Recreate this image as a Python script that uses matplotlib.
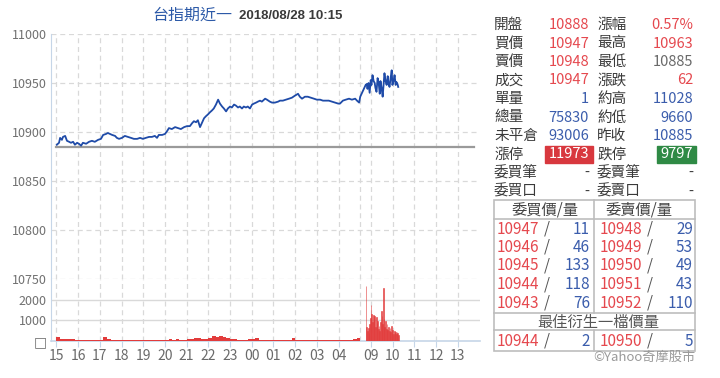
import matplotlib
matplotlib.use("Agg")
from matplotlib import pyplot as plt
from matplotlib.patches import Rectangle
import numpy as np

plt.rcParams['font.family'] = ['Noto Sans CJK TC', 'DejaVu Sans']

title_name = "台指期近一"
title_time = "2018/08/28 10:15"
prev_close = 10885

# intraday price (night session 15:00-05:00, day session 08:45-)
price_times = [
    "15:01", "15:07", "15:10", "15:15", "15:18", "15:24", "15:29", "15:35", "15:40", "15:46",
    "15:51", "15:57", "16:02", "16:08", "16:13", "16:22", "16:30", "16:38", "16:46", "16:55",
    "17:03", "17:09", "17:17", "17:22", "17:28", "17:34", "17:42", "17:47", "17:53", "18:01",
    "18:09", "18:18", "18:26", "18:34", "18:43", "18:51", "18:59", "19:07", "19:16", "19:24",
    "19:32", "19:38", "19:43", "19:52", "20:00", "20:06", "20:11", "20:19", "20:28", "20:36",
    "20:44", "20:53", "21:01", "21:09", "21:15", "21:20", "21:26", "21:31", "21:37", "21:42",
    "21:48", "21:53", "21:59", "22:04", "22:10", "22:15", "22:21", "22:27", "22:32", "22:38",
    "22:43", "22:49", "22:54", "23:00", "23:05", "23:11", "23:16", "23:22", "23:27", "23:33",
    "23:38", "23:44", "23:49", "23:55", "00:01", "00:06", "00:12", "00:17", "00:23", "00:28",
    "00:37", "00:42", "00:50", "00:56", "01:04", "01:13", "01:18", "01:26", "01:35", "01:43",
    "01:51", "01:59", "02:08", "02:13", "02:19", "02:27", "02:35", "02:44", "02:52", "03:00",
    "03:09", "03:17", "03:25", "03:33", "03:42", "03:50", "03:59", "04:04", "04:12", "04:20",
    "04:29", "04:37", "04:46", "04:51", "04:57", "05:00",
    "08:45", "08:48", "08:50", "08:53", "08:56", "08:59", "09:01", "09:04", "09:07", "09:10",
    "09:12", "09:15", "09:18", "09:21", "09:24", "09:26", "09:29", "09:32", "09:35", "09:37",
    "09:40", "09:43", "09:46", "09:48", "09:51", "09:54", "09:57", "09:59", "10:02", "10:05",
    "10:08", "10:10", "10:13", "10:15",
]
price_values = [
    10887, 10889, 10894, 10892, 10895, 10896, 10891, 10890, 10889, 10890,
    10887, 10889, 10888, 10886, 10889, 10888, 10890, 10891, 10890, 10892,
    10893, 10897, 10898, 10899, 10898, 10897, 10896, 10894, 10893, 10894,
    10896, 10895, 10894, 10893, 10893, 10894, 10893, 10894, 10895, 10895,
    10896, 10894, 10897, 10897, 10898, 10901, 10904, 10903, 10905, 10904,
    10903, 10905, 10906, 10906, 10909, 10911, 10910, 10912, 10905, 10909,
    10914, 10916, 10918, 10920, 10922, 10924, 10928, 10933, 10929, 10926,
    10924, 10921, 10924, 10926, 10925, 10928, 10927, 10925, 10926, 10924,
    10926, 10925, 10926, 10924, 10928, 10929, 10930, 10931, 10932, 10931,
    10934, 10933, 10931, 10930, 10930, 10931, 10932, 10932, 10933, 10934,
    10935, 10937, 10939, 10936, 10934, 10936, 10936, 10935, 10934, 10933,
    10933, 10932, 10932, 10932, 10931, 10930, 10929, 10929, 10932, 10933,
    10934, 10933, 10934, 10932, 10930, 10936,
    10948, 10949, 10944, 10950, 10940, 10953, 10948, 10958, 10952, 10950,
    10945, 10941, 10955, 10950, 10939, 10952, 10945, 10936, 10950, 10960,
    10952, 10948, 10957, 10950, 10946, 10955, 10963, 10948, 10952, 10958,
    10948, 10951, 10949, 10946,
]

# volume: night session in 10-minute bars from 15:00, day session in 2-minute bars from 08:45
vol_night = [
    180, 120, 100, 90, 80, 70,
    60, 50, 55, 45, 50, 60,
    70, 190, 90, 70, 60, 50,
    45, 40, 50, 45, 40, 50,
    40, 35, 40, 45, 40, 50,
    60, 110, 70, 80, 60, 70,
    80, 90, 140, 150, 80, 90,
    150, 240, 210, 250, 180, 160,
    100, 80, 70, 60, 70, 80,
    90, 150, 70, 60, 55, 60,
    55, 50, 60, 55, 50, 130,
    60, 50, 45, 55, 50, 40,
    45, 50, 40, 50, 55, 60,
    60, 70, 60, 70, 90, 140,
]
vol_day = [
    2650, 700, 500, 650, 400, 800, 1100, 1750, 1300, 900,
    1250, 1000, 1200, 700, 1150, 850, 950, 600, 750, 500,
    900, 1450, 1200, 800, 2580, 1050, 700, 950, 600, 800,
    550, 700, 500, 650, 450, 750, 400, 550, 350, 500,
    400, 450, 350, 450, 400, 300,
]

x_tick_labels = ["15", "16", "17", "18", "19", "20", "21", "22", "23", "00",
                 "01", "02", "03", "04", "09", "10", "11", "12", "13"]
price_ticks = [10750, 10800, 10850, 10900, 10950, 11000]
vol_ticks = [0, 1000, 2000]
vol_tick_labels = ["□", "1000", "2000"]

quote_left_labels = ["開盤", "買價", "賣價", "成交", "單量", "總量", "未平倉", "漲停", "委買筆", "委買口"]
quote_left_values = ["10888", "10947", "10948", "10947", "1", "75830", "93006", "11973", "-", "-"]
quote_right_labels = ["漲幅", "最高", "最低", "漲跌", "約高", "約低", "昨收", "跌停", "委賣筆", "委賣口"]
quote_right_values = ["0.57%", "10963", "10885", "62", "11028", "9660", "10885", "9797", "-", "-"]

book_headers = ["委買價/量", "委賣價/量"]
bid_prices = [10947, 10946, 10945, 10944, 10943]
bid_qty = [11, 46, 133, 118, 76]
ask_prices = [10948, 10949, 10950, 10951, 10952]
ask_qty = [29, 53, 49, 43, 110]
best_title = "最佳衍生一檔價量"
best_bid = (10944, 2)
best_ask = (10950, 5)
credit = "©Yahoo奇摩股市"

RED = "#e5484e"
BLUE = "#3b5dac"
DARK = "#3a3a3a"
GRID = "#d9d9d9"
SPINE = "#c6d6e8"
VOL = "#e23c3c"


def pos(hhmm):
    h, m = map(int, hhmm.split(":"))
    t = h + m / 60
    if t >= 15:
        return t - 15
    if t <= 5:
        return t + 9
    return t + 5.5


fig = plt.figure(figsize=(7.2, 3.78), dpi=100)
W, H = 720, 378
left, right = 51 / W, 480 / W
ax_p = fig.add_axes([left, 1 - 279 / H, right - left, (279 - 34) / H])
ax_v = fig.add_axes([left, 1 - 341 / H, right - left, (341 - 279) / H], sharex=ax_p)

xp = [pos(t) for t in price_times]
ax_p.plot([0, pos("13:45")], [prev_close, prev_close], color="#9a9a9a", lw=1.6, zorder=2)
ax_p.plot(xp, price_values, color="#1f4ba8", lw=1.3, zorder=3)

xn = np.arange(len(vol_night)) / 6
xd = pos("08:45") + np.arange(len(vol_day)) * 2 / 60
ax_v.bar(xn, vol_night, width=1 / 6, align="edge", color=VOL, lw=0, zorder=3)
ax_v.bar(xd, vol_day, width=2 / 60, align="edge", color=VOL, ec=VOL, lw=0.4, zorder=3)

xt = [pos(l + ":00") for l in x_tick_labels]
for ax in (ax_p, ax_v):
    ax.set_xlim(-0.253, 19.52)
    ax.set_xticks(xt)
    ax.set_xticks([pos("05:00")], minor=True)
    ax.grid(which="both", axis="x", color=GRID, lw=0.9, ls=(0, (4, 3)))
    for s in ("top", "right"):
        ax.spines[s].set_visible(False)
    ax.spines["left"].set_color(SPINE)
    ax.set_axisbelow(True)

ax_p.set_ylim(10750, 11000)
ax_p.set_yticks(price_ticks)
ax_p.grid(axis="y", color=GRID, lw=0.9, ls=(0, (4, 3)))
ax_p.spines["bottom"].set_visible(False)
ax_p.tick_params(axis="x", which="both", length=0, labelbottom=False)
ax_p.tick_params(axis="y", length=0, pad=3, labelsize=9, labelcolor="#707070")

ax_v.set_ylim(0, 3000)
ax_v.set_yticks(vol_ticks)
ax_v.set_yticklabels(vol_tick_labels)
for v in vol_ticks[1:]:
    ax_v.axhline(v, color=GRID, lw=1.0, zorder=1)
ax_v.spines["bottom"].set_color(SPINE)
ax_v.spines["bottom"].set_linewidth(1.2)
ax_v.set_xticklabels(x_tick_labels)
ax_v.tick_params(axis="x", which="major", length=4, color=SPINE, pad=2, labelsize=10, labelcolor="#6a6a6a")
ax_v.tick_params(axis="x", which="minor", length=0)
ax_v.tick_params(axis="y", length=0, pad=3, labelsize=9, labelcolor="#707070")
for t in ax_v.get_yticklabels():
    if t.get_text() == "□":
        t.set_family("DejaVu Sans")
        t.set_fontsize(10)

# title
fig.text(232 / W, 1 - 15 / H, title_name, ha="right", va="center", fontsize=11.5, color="#2d5aa8")
fig.text(239 / W, 1 - 16 / H, title_time, ha="left", va="center", fontsize=9.5,
         family="Liberation Sans", weight="bold", color="#3a3a3a")

# quote panel
ax_t = fig.add_axes([0, 0, 1, 1])
ax_t.set_xlim(0, W)
ax_t.set_ylim(H, 0)
ax_t.axis("off")

left_colors = [RED, RED, RED, RED, BLUE, BLUE, BLUE, "white", DARK, DARK]
right_colors = [RED, RED, "#6a6a6a", RED, BLUE, BLUE, BLUE, "white", DARK, DARK]
fs = 10.5
for i in range(len(quote_left_labels)):
    y = 25 + i * 18.5
    ax_t.text(494, y, quote_left_labels[i], ha="left", va="center", fontsize=fs, color=DARK)
    ax_t.text(589, y, quote_left_values[i], ha="right", va="center", fontsize=fs, color=left_colors[i])
    ax_t.text(597, y, quote_right_labels[i], ha="left", va="center", fontsize=fs, color=DARK)
    ax_t.text(693, y, quote_right_values[i], ha="right", va="center", fontsize=fs, color=right_colors[i])
ax_t.add_patch(Rectangle((545, 146), 48, 17, color="#d8383e", zorder=0))
ax_t.add_patch(Rectangle((657, 146), 39, 17, color="#2f8a45", zorder=0))

# order book box
bc = "#bdbdbd"
ax_t.add_patch(Rectangle((494, 200), 201, 151, fill=False, ec=bc, lw=1.2))
ax_t.plot([494, 695], [219, 219], color=bc, lw=1.2)
ax_t.plot([494, 695], [313, 313], color=bc, lw=1.2)
ax_t.plot([494, 695], [330, 330], color=bc, lw=1.2)
ax_t.plot([594, 594], [200, 313], color=bc, lw=1.2)
ax_t.plot([594, 594], [330, 351], color=bc, lw=1.2)

fb = 11
ax_t.text(545, 210, book_headers[0], ha="center", va="center", fontsize=fb, color="#444444")
ax_t.text(639, 210, book_headers[1], ha="center", va="center", fontsize=fb, color="#444444")


def book_row(y, bp, bq, ap, aq):
    ax_t.text(497, y, str(bp), ha="left", va="center", fontsize=fb, color=RED)
    ax_t.text(547, y, "/", ha="center", va="center", fontsize=fb, color="#555555")
    ax_t.text(590, y, str(bq), ha="right", va="center", fontsize=fb, color=BLUE)
    ax_t.text(600, y, str(ap), ha="left", va="center", fontsize=fb, color=RED)
    ax_t.text(650, y, "/", ha="center", va="center", fontsize=fb, color="#555555")
    ax_t.text(693, y, str(aq), ha="right", va="center", fontsize=fb, color=BLUE)


for i in range(len(bid_prices)):
    book_row(229 + i * 18.5, bid_prices[i], bid_qty[i], ask_prices[i], ask_qty[i])
ax_t.text(598, 322, best_title, ha="center", va="center", fontsize=fb, color="#555555")
book_row(341, best_bid[0], best_bid[1], best_ask[0], best_ask[1])

ax_t.text(695, 357, credit, ha="right", va="center", fontsize=9.5, color="#9a9a9a")

fig.savefig("out.png", dpi=100)
